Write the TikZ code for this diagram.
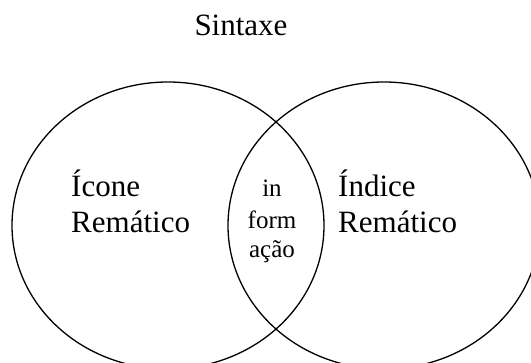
\documentclass[tikz,border=0pt]{standalone}
\usepackage{fontspec}
\setmainfont{Liberation Serif}
\begin{document}
\begin{tikzpicture}[line cap=round,line join=round,x=1pt,y=1pt,
		big/.style={inner sep=0pt,font=\fontsize{31}{36}\selectfont},
		small/.style={inner sep=0pt,font=\fontsize{25}{30}\selectfont}]
		\useasboundingbox (0,0) rectangle (531,363);
		\clip (0,0) rectangle (531,363);
		\draw[line width=1.3pt] (168,137.5) ellipse (156 and 143.5);
		\draw[line width=1.3pt] (384,137.5) ellipse (156 and 143.5);
		\node[big,anchor=base] (sintaxe) at (241,327) {Sintaxe};
		\node[big,anchor=base west] (icone) at (71,166) {Ícone};
		\node[big,anchor=base west] (iconerem) at (71,130) {Remático};
		\node[big,anchor=base west] (indice) at (338,166) {Índice};
		\node[big,anchor=base west] (indicerem) at (338,130) {Remático};
		\node[small,anchor=base] (info1) at (272,166) {in};
		\node[small,anchor=base] (info2) at (272,134) {form};
		\node[small,anchor=base] (info3) at (272,105) {ação};
	\end{tikzpicture}
\end{document}
